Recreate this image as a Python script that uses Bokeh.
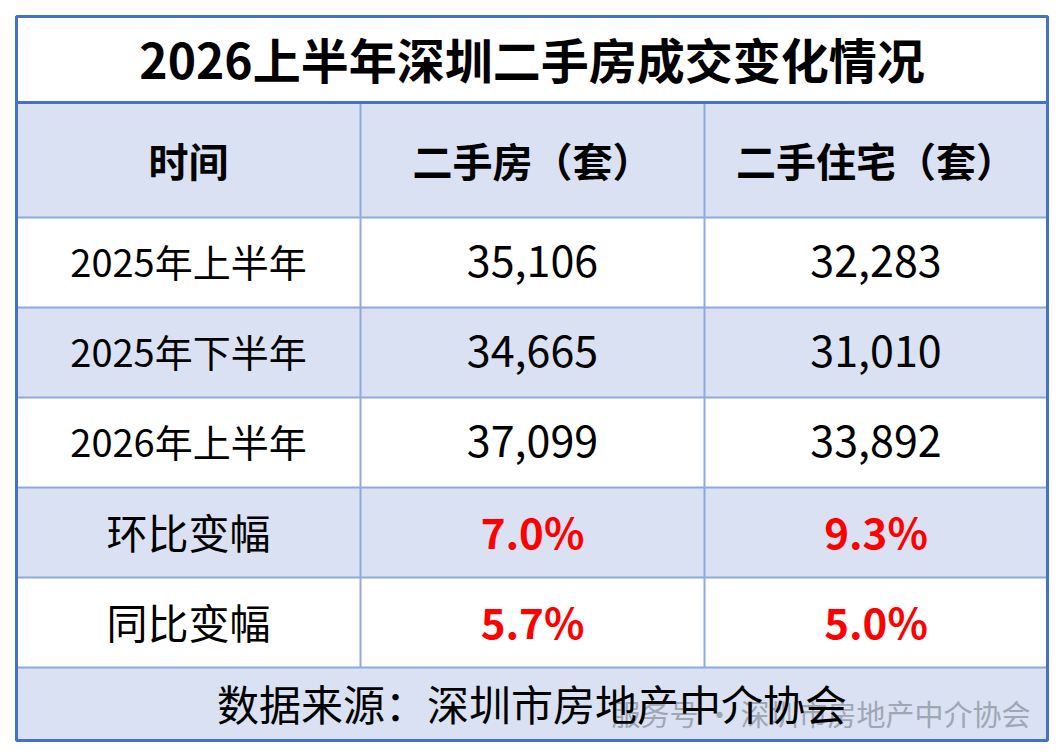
from bokeh.plotting import figure
from bokeh.models import Range1d
from bokeh.core.properties import value
from bokeh.embed import file_html
from bokeh.resources import INLINE

# ---- data ----
title = "2026上半年深圳二手房成交变化情况"
headers = ["时间", "二手房（套）", "二手住宅（套）"]
periods = ["2025年上半年", "2025年下半年", "2026年上半年"]
second_hand = [35106, 34665, 37099]
second_home = [32283, 31010, 33892]
change_labels = ["环比变幅", "同比变幅"]
change_second_hand = [7.0, 5.7]
change_second_home = [9.3, 5.0]
source = "数据来源：深圳市房地产中介协会"
watermark = "服务号 · 深圳市房地产中介协会"

# ---- layout (pixels, y down) ----
W, H = 1056, 748
L, R, T, B = 16, 1047, 16, 740
title_bottom = 102
header_bottom = 217
row_h = 90
col_x = [L, 360, 704, R]
FONT = "Noto Sans CJK SC"
BORDER = "#4472C4"
GRID = "#8EA9DB"
SHADE = "#D9E1F2"

p = figure(width=W, height=H, x_range=Range1d(0, W), y_range=Range1d(H, 0),
           output_backend="svg", toolbar_location=None, min_border=0)
p.axis.visible = False
p.grid.visible = False
p.outline_line_color = None
p.background_fill_color = "white"
p.border_fill_color = "white"

n_rows = len(periods) + len(change_labels)
row_tops = [header_bottom + i * row_h for i in range(n_rows)]
footer_top = header_bottom + n_rows * row_h

# shaded bands: header, alternate rows, footer
shade_top = [title_bottom] + [row_tops[i] for i in range(n_rows) if i % 2 == 1] + [footer_top]
shade_bot = [header_bottom] + [row_tops[i] + row_h for i in range(n_rows) if i % 2 == 1] + [B]
p.quad(left=L, right=R, top=shade_top, bottom=shade_bot, fill_color=SHADE, line_color=None)

# inner horizontal lines
h_lines = [header_bottom] + [t + row_h for t in row_tops]
p.segment(x0=L, x1=R, y0=h_lines, y1=h_lines, line_color=GRID, line_width=2)
# inner vertical lines
p.segment(x0=col_x[1:3], x1=col_x[1:3], y0=title_bottom, y1=footer_top, line_color=GRID, line_width=2)
# title separator
p.segment(x0=[L], x1=[R], y0=[title_bottom], y1=[title_bottom], line_color=BORDER, line_width=3)
# outer border
p.quad(left=[L], right=[R], top=[T], bottom=[B], fill_color=None, line_color=BORDER, line_width=3)

centers = [(col_x[i] + col_x[i + 1]) / 2 for i in range(3)]

# title
p.text(x=[(L + R) / 2], y=[(T + title_bottom) / 2 - 2], text=[title], text_font=value(FONT),
       text_font_style="bold", text_font_size="48px", text_align="center", text_baseline="middle",
       text_color="black")
# headers
p.text(x=centers, y=[(title_bottom + header_bottom) / 2] * 3, text=headers, text_font=value(FONT),
       text_font_style="bold", text_font_size="40px", text_align="center", text_baseline="middle",
       text_color="black")

# data rows
ys = [t + row_h / 2 - 2 for t in row_tops]
np_ = len(periods)
p.text(x=[centers[0]] * np_, y=ys[:np_], text=periods, text_font=value(FONT), text_font_size="38px",
       text_align="center", text_baseline="middle", text_color="black")
p.text(x=[centers[1]] * np_, y=ys[:np_], text=[f"{v:,}" for v in second_hand], text_font=value(FONT),
       text_font_size="43px", text_align="center", text_baseline="middle", text_color="black")
p.text(x=[centers[2]] * np_, y=ys[:np_], text=[f"{v:,}" for v in second_home], text_font=value(FONT),
       text_font_size="43px", text_align="center", text_baseline="middle", text_color="black")

nc = len(change_labels)
p.text(x=[centers[0]] * nc, y=ys[np_:], text=change_labels, text_font=value(FONT), text_font_size="41px",
       text_align="center", text_baseline="middle", text_color="black")
p.text(x=[centers[1]] * nc, y=ys[np_:], text=[f"{v:.1f}%" for v in change_second_hand], text_font=value(FONT),
       text_font_style="bold", text_font_size="42px", text_align="center", text_baseline="middle",
       text_color="#FF0000")
p.text(x=[centers[2]] * nc, y=ys[np_:], text=[f"{v:.1f}%" for v in change_second_home], text_font=value(FONT),
       text_font_style="bold", text_font_size="42px", text_align="center", text_baseline="middle",
       text_color="#FF0000")

# watermark (behind source text)
p.text(x=[1030], y=[712], text=[watermark], text_font=value(FONT), text_font_size="29px",
       text_align="right", text_baseline="middle", text_color="#8f96a3", text_alpha=0.8)
# footer
p.text(x=[(L + R) / 2], y=[(footer_top + B) / 2 - 2], text=[source], text_font=value(FONT),
       text_font_size="42px", text_align="center", text_baseline="middle", text_color="black")

open("out.html", "w").write(file_html(p, INLINE))
